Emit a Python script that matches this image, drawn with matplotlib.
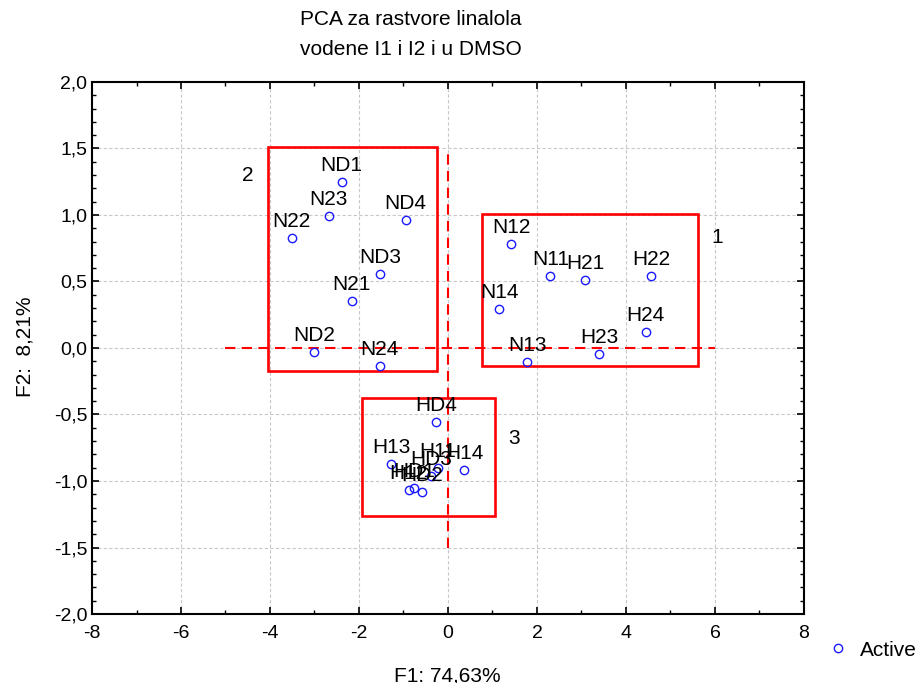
import matplotlib.pyplot as plt
from matplotlib.patches import Rectangle
from matplotlib.ticker import MultipleLocator, FuncFormatter

plt.rcParams["font.family"] = ["Liberation Sans", "DejaVu Sans"]
plt.rcParams["axes.unicode_minus"] = False

# PCA scores (F1, F2)
names = ["ND1", "N23", "N22", "ND4", "ND3", "N21", "ND2", "N24",
         "N12", "N11", "H21", "H22", "N14", "H24", "H23", "N13",
         "HD4", "H14", "H13", "H11", "HD3", "H12", "HD1", "HD2"]
f1 = [-2.39, -2.68, -3.51, -0.95, -1.53, -2.16, -3.00, -1.53,
      1.42, 2.30, 3.09, 4.57, 1.15, 4.44, 3.40, 1.78,
      -0.27, 0.36, -1.28, -0.22, -0.38, -0.88, -0.76, -0.58]
f2 = [1.25, 0.99, 0.83, 0.96, 0.56, 0.35, -0.03, -0.135,
      0.78, 0.54, 0.51, 0.54, 0.29, 0.12, -0.045, -0.105,
      -0.56, -0.917, -0.872, -0.90, -0.96, -1.07, -1.05, -1.08]

# group boxes: (x0, y0, x1, y1) and their numbers
boxes = [(0.77, -0.135, 5.63, 1.01), (-4.05, -0.17, -0.25, 1.51), (-1.94, -1.26, 1.06, -0.376)]
box_labels = ["1", "2", "3"]
box_label_pos = [(6.06, 0.83), (-4.5, 1.30), (1.49, -0.68)]

fig = plt.figure(figsize=(9.21, 6.83), dpi=100)
ax = fig.add_axes([0.0999, 0.101, 0.773, 0.779])

ax.plot(f1, f2, "o", ms=6, mfc="none", mec="#1a1aff", mew=1.0, label="Active", zorder=4)
for n, x, y in zip(names, f1, f2):
    ax.annotate(n, (x, y), xytext=(0, 11), textcoords="offset pixels",
                ha="center", va="baseline", fontsize=15, zorder=5)

for (x0, y0, x1, y1) in boxes:
    ax.add_patch(Rectangle((x0, y0), x1 - x0, y1 - y0, fill=False,
                           ec="#ff0000", lw=1.9, zorder=3))
for t, (x, y) in zip(box_labels, box_label_pos):
    ax.text(x, y, t, ha="center", va="center", fontsize=15)

ax.plot([-5, 6], [0, 0], color="#ff0000", lw=1.5, ls=(0, (5, 3)), zorder=3)
ax.plot([0, 0], [-1.5, 1.5], color="#ff0000", lw=1.5, ls=(0, (5, 3)), zorder=3)

ax.set_xlim(-8, 8)
ax.set_ylim(-2, 2)
ax.xaxis.set_major_locator(MultipleLocator(2))
ax.xaxis.set_minor_locator(MultipleLocator(1))
ax.yaxis.set_major_locator(MultipleLocator(0.5))
ax.yaxis.set_minor_locator(MultipleLocator(0.1))
ax.yaxis.set_major_formatter(FuncFormatter(lambda v, p: f"{v:.1f}".replace(".", ",")))
ax.xaxis.set_major_formatter(FuncFormatter(lambda v, p: f"{v:.0f}"))
ax.tick_params(which="both", direction="in", top=True, right=True, labelsize=14)
ax.tick_params(which="major", length=5, width=1.2)
ax.tick_params(which="minor", length=3, width=1.0)
ax.tick_params(axis="x", pad=8)
for s in ax.spines.values():
    s.set_linewidth(1.5)
ax.grid(True, which="major", color="#c8c8c8", ls=(0, (3, 2)), lw=0.8)
ax.set_axisbelow(True)

fig.text(0.446, 0.971, "PCA za rastvore linalola", ha="center", va="center", fontsize=15)
fig.text(0.446, 0.927, "vodene I1 i I2 i u DMSO", ha="center", va="center", fontsize=15)
fig.text(0.486, 0.010, "F1: 74,63%", ha="center", va="center", fontsize=15)
fig.text(0.027, 0.492, "F2:  8,21%", ha="center", va="center", rotation=90, fontsize=15)

ax.legend(loc="center left", bbox_to_anchor=(0.889, 0.048), bbox_transform=fig.transFigure,
          frameon=False, fontsize=15, handlelength=1.0, handletextpad=0.6, borderaxespad=0)

fig.savefig("out.png", dpi=100)
